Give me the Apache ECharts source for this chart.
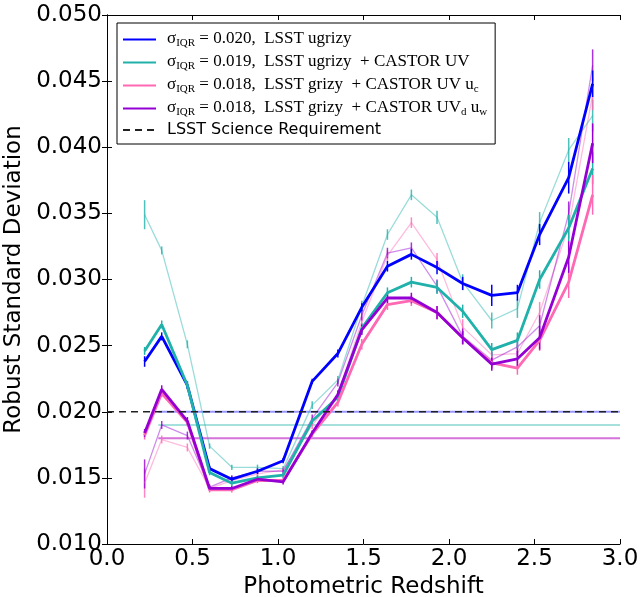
<!DOCTYPE html>
<html>
<head>
<meta charset="utf-8">
<script src="https://cdn.jsdelivr.net/npm/echarts@6/dist/echarts.min.js"></script>
<style>html,body{margin:0;padding:0;background:#fff}#main{width:640px;height:597px}</style>
</head>
<body>
<div id="main"></div>
<script>
// photometric redshift bins
var redshift = [0.22, 0.32, 0.47, 0.60, 0.73, 0.88, 1.03, 1.20, 1.35, 1.49, 1.64, 1.78, 1.93, 2.08, 2.25, 2.40, 2.53, 2.70, 2.84];

// thick curves
var rsdUgrizy   = [0.0238, 0.0257, 0.0220, 0.0157, 0.0149, 0.0155, 0.0163, 0.0223, 0.0244, 0.0279, 0.0310, 0.0319, 0.0309, 0.0297, 0.0288, 0.0290, 0.0334, 0.0377, 0.0448];
var rsdUgrizyUV = [0.0246, 0.0266, 0.0220, 0.0154, 0.0146, 0.0150, 0.0152, 0.0193, 0.0211, 0.0263, 0.0290, 0.0298, 0.0294, 0.0276, 0.0247, 0.0254, 0.0300, 0.0339, 0.0384];
var rsdGrizyUc  = [0.0182, 0.0214, 0.0192, 0.0141, 0.0141, 0.0148, 0.0148, 0.0183, 0.0207, 0.0251, 0.0281, 0.0284, 0.0275, 0.0256, 0.0237, 0.0233, 0.0254, 0.0298, 0.0364];
var rsdGrizyUdw = [0.0184, 0.0217, 0.0193, 0.0142, 0.0142, 0.0149, 0.0147, 0.0184, 0.0213, 0.0262, 0.0286, 0.0286, 0.0275, 0.0256, 0.0236, 0.0240, 0.0256, 0.0317, 0.0403];

// thin (faint) curves
var rsdUgrizyUVb = [0.0349, 0.0322, 0.0251, 0.0174, 0.0158, 0.0158, 0.0157, 0.0205, 0.0224, 0.0280, 0.0334, 0.0364, 0.0347, 0.0298, 0.0269, 0.0278, 0.0343, 0.0398, 0.0424];
var rsdGrizyUcb  = [0.0146, 0.0179, 0.0173, 0.0142, 0.0148, 0.0153, 0.0156, 0.0190, 0.0213, 0.0268, 0.0318, 0.0343, 0.0315, 0.0264, 0.0243, 0.0244, 0.0275, 0.0340, 0.0440];
var rsdGrizyUdwb = [0.0153, 0.0190, 0.0182, 0.0143, 0.0150, 0.0155, 0.0155, 0.0195, 0.0222, 0.0273, 0.0320, 0.0324, 0.0295, 0.0257, 0.0239, 0.0249, 0.0265, 0.0350, 0.0462];

// error bar half lengths
var errUgrizy   = [0.0004, 0.0003, 0.0003, 0.0002, 0.0002, 0.0002, 0.0002, 0.0002, 0.0003, 0.0003, 0.0004, 0.0004, 0.0005, 0.0005, 0.0008, 0.0006, 0.0008, 0.0012, 0.0010];
var errUgrizyUV = [0.0003, 0.0003, 0.0003, 0.0002, 0.0002, 0.0002, 0.0002, 0.0002, 0.0003, 0.0004, 0.0004, 0.0004, 0.0005, 0.0005, 0.0005, 0.0006, 0.0007, 0.0010, 0.0012];
var errGrizyUc  = [0.0003, 0.0003, 0.0003, 0.0002, 0.0002, 0.0002, 0.0002, 0.0002, 0.0003, 0.0004, 0.0004, 0.0004, 0.0005, 0.0005, 0.0005, 0.0005, 0.0008, 0.0012, 0.0015];
var errGrizyUdw = [0.0003, 0.0003, 0.0003, 0.0002, 0.0002, 0.0002, 0.0002, 0.0002, 0.0003, 0.0004, 0.0004, 0.0004, 0.0005, 0.0005, 0.0005, 0.0006, 0.0009, 0.0012, 0.0015];
var errThin     = [0.0011, 0.0003, 0.0003, 0.0002, 0.0002, 0.0002, 0.0002, 0.0003, 0.0003, 0.0004, 0.0004, 0.0004, 0.0005, 0.0006, 0.0006, 0.0007, 0.0008, 0.0009, 0.0012];

// sigma_IQR levels and requirement
var sigmaIQR = [0.020, 0.019, 0.018, 0.018];
var sigmaStart = 0.30;
var requirement = 0.020;

var xRange = [0.0, 3.0];
var yRange = [0.010, 0.050];

var colors = ['#0000ff', '#20b2aa', '#ff69b4', '#9400d3'];
var names = ['ugrizy', 'ugrizyUV', 'grizyUc', 'grizyUdw'];
var legendText = {
    'ugrizy':   '{m|σ}{s|IQR}{m| = 0.020,  LSST ugrizy}',
    'ugrizyUV': '{m|σ}{s|IQR}{m| = 0.019,  LSST ugrizy  + CASTOR UV}',
    'grizyUc':  '{m|σ}{s|IQR}{m| = 0.018,  LSST grizy  + CASTOR UV u}{s|c}',
    'grizyUdw': '{m|σ}{s|IQR}{m| = 0.018,  LSST grizy  + CASTOR UV}{s|d}{m| u}{s|w}',
    'req':      '{t|LSST Science Requirement}'
};

function pts(vals) {
    return redshift.map(function (x, i) { return [x, vals[i]]; });
}

function lineSeries(name, vals, color, width, opacity, z) {
    return {
        name: name, type: 'line', data: pts(vals), symbol: 'none', z: z,
        lineStyle: {color: color, width: width, opacity: opacity},
        itemStyle: {color: color}
    };
}

function errSeries(vals, errs, color, opacity, z) {
    return {
        type: 'custom', z: z,
        data: redshift.map(function (x, i) { return [x, vals[i], errs[i]]; }),
        encode: {x: 0, y: 1},
        renderItem: function (params, api) {
            var x = api.value(0), y = api.value(1), e = api.value(2);
            var p1 = api.coord([x, y - e]), p2 = api.coord([x, y + e]);
            return {type: 'line', shape: {x1: p1[0], y1: p1[1], x2: p2[0], y2: p2[1]},
                style: {stroke: color, lineWidth: 1.5, opacity: opacity}};
        }
    };
}

var thick = [rsdUgrizy, rsdUgrizyUV, rsdGrizyUc, rsdGrizyUdw];
var thickErr = [errUgrizy, errUgrizyUV, errGrizyUc, errGrizyUdw];
var thin = [null, rsdUgrizyUVb, rsdGrizyUcb, rsdGrizyUdwb];

var series = [];
// sigma_IQR horizontal lines
sigmaIQR.forEach(function (s, i) {
    series.push({
        type: 'line', symbol: 'none', z: 1,
        data: [[sigmaStart, s], [xRange[1], s]],
        lineStyle: {color: colors[i], width: 2, opacity: 0.4}
    });
});
// requirement
series.push({
    name: 'req', type: 'line', symbol: 'none', z: 5,
    data: [[xRange[0], requirement], [xRange[1], requirement]],
    lineStyle: {color: '#222', width: 1.5, type: [7, 5]},
    itemStyle: {color: '#222'}
});
thin.forEach(function (vals, i) {
    if (!vals) return;
    series.push(lineSeries(names[i] + '_b', vals, colors[i], 1.3, 0.45, 2));
    series.push(errSeries(vals, errThin, colors[i], 0.8, 2));
});
thick.forEach(function (vals, i) {
    series.push(lineSeries(names[i], vals, colors[i], 2.8, 1, 3));
    series.push(errSeries(vals, thickErr[i], colors[i], 1, 3));
});

var tickFont = {fontFamily: 'DejaVu Sans', fontSize: 23, color: '#000'};
var axisLine = {show: true, lineStyle: {color: '#000', width: 1}};

var myChart = echarts.init(document.getElementById('main'));
myChart.setOption({
    animation: false,
    backgroundColor: '#fff',
    grid: {left: 107, right: 20, top: 15, bottom: 53, containLabel: false, outerBoundsMode: 'none'},
    legend: {
        data: names.concat(['req']),
        orient: 'vertical',
        left: 117, top: 23,
        padding: [7, 8, 6, 5],
        itemGap: 4,
        itemWidth: 33, itemHeight: 14,
        backgroundColor: '#fff',
        borderColor: '#000', borderWidth: 1,
        itemStyle: {opacity: 0},
        formatter: function (n) { return legendText[n]; },
        textStyle: {
            padding: [0, 0, 0, 6],
            rich: {
                m: {fontFamily: 'Liberation Serif', fontSize: 17, color: '#000', verticalAlign: 'top', lineHeight: 19},
                s: {fontFamily: 'Liberation Serif', fontSize: 11, color: '#000', verticalAlign: 'top', padding: [8, 0, 0, 0], lineHeight: 19},
                t: {fontFamily: 'DejaVu Sans', fontSize: 16, color: '#000', lineHeight: 19}
            }
        }
    },
    xAxis: [{
        type: 'value', min: xRange[0], max: xRange[1], interval: 0.5,
        name: 'Photometric Redshift', nameLocation: 'middle', nameGap: 30,
        nameTextStyle: tickFont,
        axisLine: axisLine,
        axisTick: {show: true, inside: true, length: 5, lineStyle: {color: '#000'}},
        axisLabel: Object.assign({margin: 4, formatter: function (v) { return v.toFixed(1); }}, tickFont),
        splitLine: {show: false}
    }, {
        type: 'value', position: 'top', min: xRange[0], max: xRange[1], interval: 0.5,
        axisLine: axisLine,
        axisTick: {show: true, inside: true, length: 5, lineStyle: {color: '#000'}},
        axisLabel: {show: false}, splitLine: {show: false}
    }],
    yAxis: [{
        type: 'value', min: yRange[0], max: yRange[1], interval: 0.005,
        name: 'Robust Standard Deviation', nameLocation: 'middle', nameGap: 78,
        nameTextStyle: tickFont,
        axisLine: axisLine,
        axisTick: {show: true, inside: true, length: 5, lineStyle: {color: '#000'}},
        axisLabel: Object.assign({margin: 5, formatter: function (v) { return v.toFixed(3); }}, tickFont),
        splitLine: {show: false}
    }, {
        type: 'value', position: 'right', min: yRange[0], max: yRange[1], interval: 0.005,
        axisLine: axisLine,
        axisTick: {show: true, inside: true, length: 5, lineStyle: {color: '#000'}},
        axisLabel: {show: false}, splitLine: {show: false}
    }],
    series: series
});
</script>
</body>
</html>
